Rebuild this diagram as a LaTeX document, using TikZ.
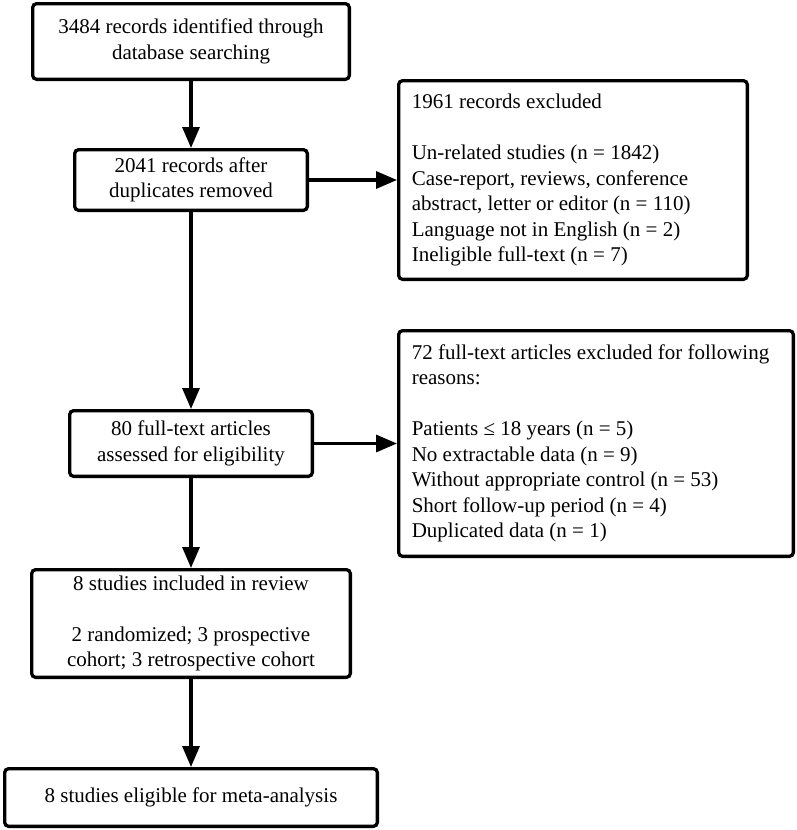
\documentclass[tikz,border=0pt]{standalone}
\usepackage{fontspec}
\setmainfont{Liberation Serif}
\usetikzlibrary{arrows.meta}
\begin{document}
\begin{tikzpicture}[x=1pt,y=-1pt,
  box/.style={draw=black, line width=3.3pt, rounded corners=4pt, fill=white,
    font=\fontsize{21}{25.5}\selectfont, inner sep=0pt},
  cbox/.style={box, align=center},
  txt/.style={font=\fontsize{21}{25.5}\selectfont, inner sep=0pt, align=left, anchor=west},
  arr/.style={line width=3.3pt, -{Triangle[length=21pt,width=17pt]}}
]
\useasboundingbox[fill=white] (0,0) rectangle (796,830);

\node[cbox, minimum width=316.7pt, minimum height=75.7pt] (b1) at (191,41.5)
  {3484 records identified through\\database searching};
\node[cbox, minimum width=232.7pt, minimum height=60.7pt] (b2) at (191,180)
  {2041 records after\\duplicates removed};
\node[box, minimum width=348.7pt, minimum height=198.7pt] (b3) at (573,180) {};
\node[txt] (t3) at ([xshift=14.6pt]b3.west)
  {1961 records excluded\\[25.5pt]
   Un-related studies (n = 1842)\\
   Case-report, reviews, conference\\
   abstract, letter or editor (n = 110)\\
   Language not in English (n = 2)\\
   Ineligible full-text (n = 7)};
\node[cbox, minimum width=242.7pt, minimum height=65.7pt] (b4) at (191,443.5)
  {80 full-text articles\\assessed for eligibility};
\node[box, minimum width=394.7pt, minimum height=225.7pt] (b5) at (596,443.5) {};
\node[txt] (t5) at ([xshift=14.6pt]b5.west)
  {72 full-text articles excluded for following\\
   reasons:\\[25.5pt]
   Patients ≤ 18 years (n = 5)\\
   No extractable data (n = 9)\\
   Without appropriate control (n = 53)\\
   Short follow-up period (n = 4)\\
   Duplicated data (n = 1)};
\node[cbox, minimum width=318.7pt, minimum height=107.7pt] (b6) at (191,623.5)
  {8 studies included in review\\[25.5pt]
   2 randomized; 3 prospective\\
   cohort; 3 retrospective cohort};
\node[cbox, minimum width=372.7pt, minimum height=57.7pt] (b7) at (191,797.5)
  {8 studies eligible for meta-analysis};

\draw[arr] (b1.south) -- (b2.north);
\draw[arr] (b2.east) -- (b2.east -| b3.west);
\draw[arr] (b2.south) -- (b4.north);
\draw[arr] (b4.east) -- (b4.east -| b5.west);
\draw[arr] (b4.south) -- (b6.north);
\draw[arr] (b6.south) -- (b7.north);
\end{tikzpicture}
\end{document}
